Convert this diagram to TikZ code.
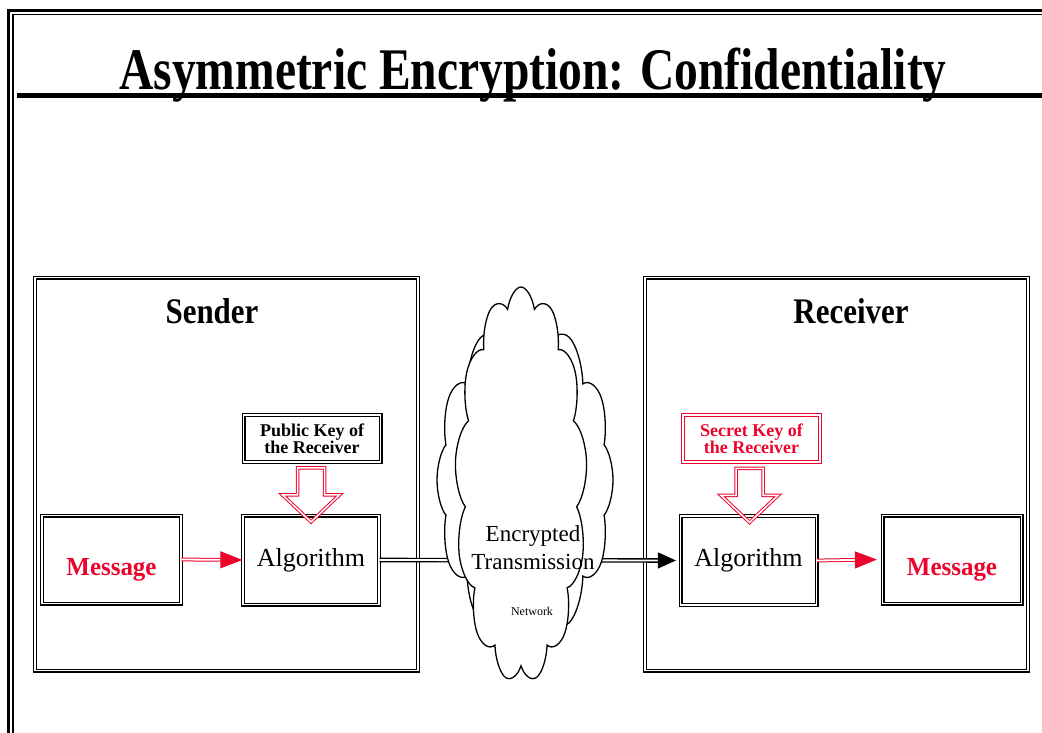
\documentclass[tikz,border=0pt]{standalone}
\usepackage{fontspec}
\setmainfont{Liberation Serif}
\usetikzlibrary{shapes.symbols,arrows.meta}
\definecolor{keyred}{RGB}{235,5,45}

\tikzset{
  dblbox/.style={draw, double=white, double distance=1.6pt, line width=1.2pt, inner sep=0pt},
  panel/.style={dblbox, minimum width=383pt, minimum height=393pt},
  msgbox/.style={dblbox, minimum width=139pt, minimum height=88pt},
  algbox/.style={dblbox, minimum width=136pt, minimum height=89pt, font=\fontsize{26}{28}\selectfont},
  keybox/.style={dblbox, minimum width=137pt, minimum height=47pt, align=center,
                 font=\bfseries\fontsize{18}{16}\selectfont},
  heading/.style={font=\bfseries\fontsize{36}{40}\selectfont},
  msgtext/.style={text=keyred, font=\bfseries\fontsize{26}{28}\selectfont},
  redarr/.style={draw=keyred, double=white, double distance=1.8pt, line width=1pt,
                 -{Triangle[length=22pt,width=17pt]}},
  blkarr/.style={draw=black, double=white, double distance=1.8pt, line width=1.4pt,
                 -{Triangle[length=18pt,width=16pt]}},
  hollow/.style={draw=keyred, double=white, double distance=1.5pt, line width=1pt, line join=miter},
  puffy/.style={cloud, draw, fill=white, line width=1.3pt, cloud ignores aspect, inner sep=0pt}
}

\begin{document}
\begin{tikzpicture}[x=1pt,y=-1pt]
\useasboundingbox (0,0) rectangle (1042,733);

% page frame
\draw[line width=3pt] (8.5,733) -- (8.5,10.5) -- (1042,10.5);
\draw[line width=1.8pt] (13,733) -- (13,14.5) -- (1042,14.5);
\draw[line width=4.5pt] (17,95.5) -- (1042,95.5);

% title
\node[anchor=base, font=\bfseries\fontsize{59}{62}\selectfont] (title) at (533,90)
  {\scalebox{0.805}[1]{Asymmetric Encryption: Confidentiality}};

% sender and receiver panels
\node[panel] (sender) at (226.5,474) {};
\node[panel] (receiver) at (836.5,474) {};
\node[heading] (sendertitle) at (212,311) {\scalebox{0.86}[1]{Sender}};
\node[heading] (receivertitle) at (851,311) {\scalebox{0.86}[1]{Receiver}};

% sender side
\node[msgbox, msgtext] (msgL) at (111.5,559.5) {\raisebox{-16pt}[0pt][0pt]{\scalebox{0.96}[1]{Message}}};
\node[algbox] (algL) at (311,560) {Algorithm};
\node[keybox] (pubkey) at (312,438.5) {Public Key of\\the Receiver};

% receiver side
\node[algbox] (algR) at (748.5,560.5) {Algorithm};
\node[msgbox, msgtext] (msgR) at (952,559.5) {\raisebox{-16pt}[0pt][0pt]{\scalebox{0.96}[1]{Message}}};
\node[keybox, draw=keyred, text=keyred] (seckey) at (751.5,438.5) {Secret Key of\\the Receiver};

% key arrows
\draw[hollow, shift={(algL.north)}] (-13.5,-47) -- (13.5,-47) -- (13.5,-20) -- (28.5,-20) -- (0,7) -- (-28.5,-20) -- (-13.5,-20) -- cycle;
\draw[hollow, shift={(algR.north)}] (-12.5,-47) -- (14.5,-47) -- (14.5,-20) -- (29.5,-20) -- (1,7) -- (-27.5,-20) -- (-12.5,-20) -- cycle;

% data flow
\draw[redarr] (msgL.east) -- (algL.west);
\draw[blkarr, shorten >=4pt] (algL.east) -- (algR.west);
\draw[redarr, shorten >=5pt] (algR.east) -- (msgR.west);

% network cloud: squeezed sideways so that its puffs become tall lobes
\begin{scope}[shift={(525,480)}, xscale=0.4, transform shape]
  \node[puffy, cloud puffs=12, cloud puff arc=130, minimum width=440pt, minimum height=330pt] (cloudback) at (0,0) {};
\end{scope}
\begin{scope}[shift={(521,485)}, xscale=0.4, transform shape]
  \node[puffy, cloud puffs=13, cloud puff arc=135, minimum width=330pt, minimum height=396pt] (cloudfront) at (0,0) {};
\end{scope}
\node[align=center, font=\fontsize{23}{28}\selectfont] (transit) at (533,548) {Encrypted\\Transmission};
\node[font=\fontsize{12}{14}\selectfont] (net) at (532,611) {Network};
\end{tikzpicture}
\end{document}
